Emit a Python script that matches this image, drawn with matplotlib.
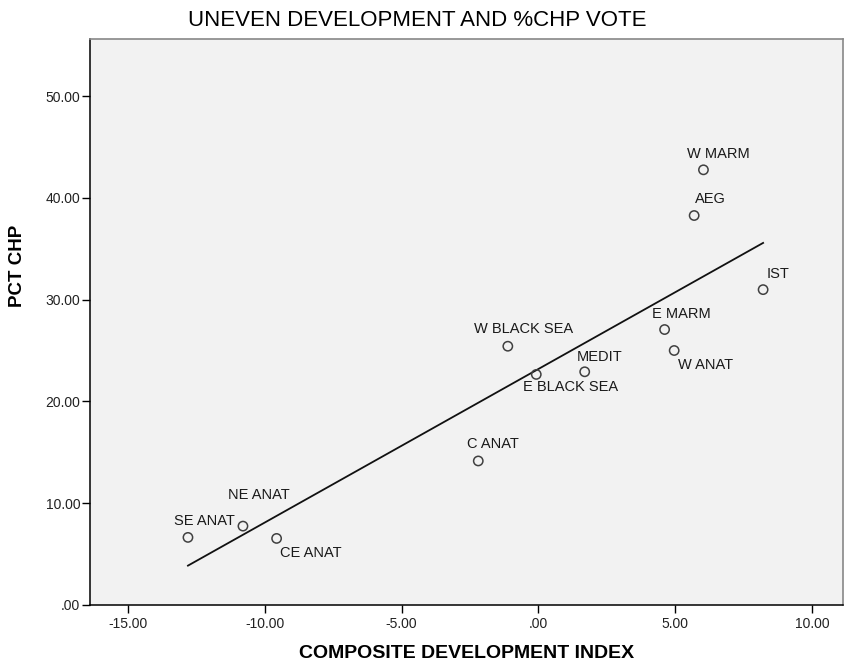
import numpy as np
import matplotlib
matplotlib.use("Agg")
import matplotlib.pyplot as plt

plt.rcParams['font.family'] = ['Liberation Sans', 'DejaVu Sans']

regions = ["W MARM", "AEG", "IST", "E MARM", "W ANAT", "W BLACK SEA",
           "E BLACK SEA", "MEDIT", "SE ANAT", "NE ANAT", "CE ANAT", "C ANAT"]
dev_index = [6.03, 5.69, 8.21, 4.61, 4.96, -1.12, -0.08, 1.69, -12.81, -10.80, -9.57, -2.20]
pct_chp = [42.75, 38.26, 30.98, 27.06, 25.00, 25.42, 22.65, 22.91, 6.64, 7.75, 6.54, 14.15]
x_ticks = [-15, -10, -5, 0, 5, 10]
x_ticklabels = ["-15.00", "-10.00", "-5.00", ".00", "5.00", "10.00"]
y_ticks = [0, 10, 20, 30, 40, 50]
y_ticklabels = [".00", "10.00", "20.00", "30.00", "40.00", "50.00"]

# label placement: (dx, dy in pixels, ha, va)
label_pos = {
    "W MARM": (15, 16, 'center', 'center'),
    "AEG": (16, 17, 'center', 'center'),
    "IST": (15, 16, 'center', 'center'),
    "E MARM": (17, 16, 'center', 'center'),
    "W ANAT": (4, -14, 'left', 'center'),
    "W BLACK SEA": (16, 17, 'center', 'center'),
    "E BLACK SEA": (-13, -13, 'left', 'center'),
    "MEDIT": (15, 15, 'center', 'center'),
    "SE ANAT": (16, 16, 'center', 'center'),
    "NE ANAT": (16, 31, 'center', 'center'),
    "CE ANAT": (3, -15, 'left', 'center'),
    "C ANAT": (15, 17, 'center', 'center'),
}

fig = plt.figure(figsize=(8.44, 6.67), dpi=100)
ax = fig.add_axes([90/844, 1-605/667, (843-90)/844, (605-39)/667])
ax.set_facecolor('#f2f2f2')

x = np.array(dev_index)
y = np.array(pct_chp)
slope, intercept = np.polyfit(x, y, 1)
xl = np.array([x.min(), x.max()])
ax.plot(xl, slope*xl + intercept, color='#111111', lw=1.3, zorder=2)

ax.scatter(x, y, s=45, facecolors='none', edgecolors='#404040', linewidths=1.1, zorder=3)

for name, xi, yi in zip(regions, dev_index, pct_chp):
    dx, dy, ha, va = label_pos[name]
    ax.annotate(name, (xi, yi), xytext=(dx, dy), textcoords='offset pixels',
                ha=ha, va=va, fontsize=10.5, color='#1a1a1a')

ax.set_xlim(-16.39, 11.13)
ax.set_ylim(0, 55.6)
ax.set_xticks(x_ticks)
ax.set_xticklabels(x_ticklabels)
ax.set_yticks(y_ticks)
ax.set_yticklabels(y_ticklabels)
ax.tick_params(direction='out', length=6, width=1, labelsize=10, colors='#000000')
ax.tick_params(axis='y', pad=1)
ax.tick_params(axis='x', pad=2.5)
for lab in ax.get_xticklabels() + ax.get_yticklabels():
    lab.set_color('#222222')

for s in ['left', 'bottom']:
    ax.spines[s].set_color('#000000')
    ax.spines[s].set_linewidth(1.1)
for s in ['top', 'right']:
    ax.spines[s].set_color('#888888')
    ax.spines[s].set_linewidth(1.2)

ax.set_xlabel("COMPOSITE DEVELOPMENT INDEX", fontsize=14, fontweight='bold')
ax.xaxis.set_label_coords(0.5, -(654-605)/(605-39), transform=ax.transAxes)
ax.xaxis.label.set_va('center')
ax.set_ylabel("PCT CHP", fontsize=13.5, fontweight='bold')
ax.yaxis.set_label_coords(-(90-17.5)/(843-90), 1-(266-39)/(605-39), transform=ax.transAxes)
ax.yaxis.label.set_va('center')
fig.text(417/844, 1-20/667, "UNEVEN DEVELOPMENT AND %CHP VOTE", ha='center', va='center',
         fontsize=16)

fig.savefig("out.png", dpi=100)
